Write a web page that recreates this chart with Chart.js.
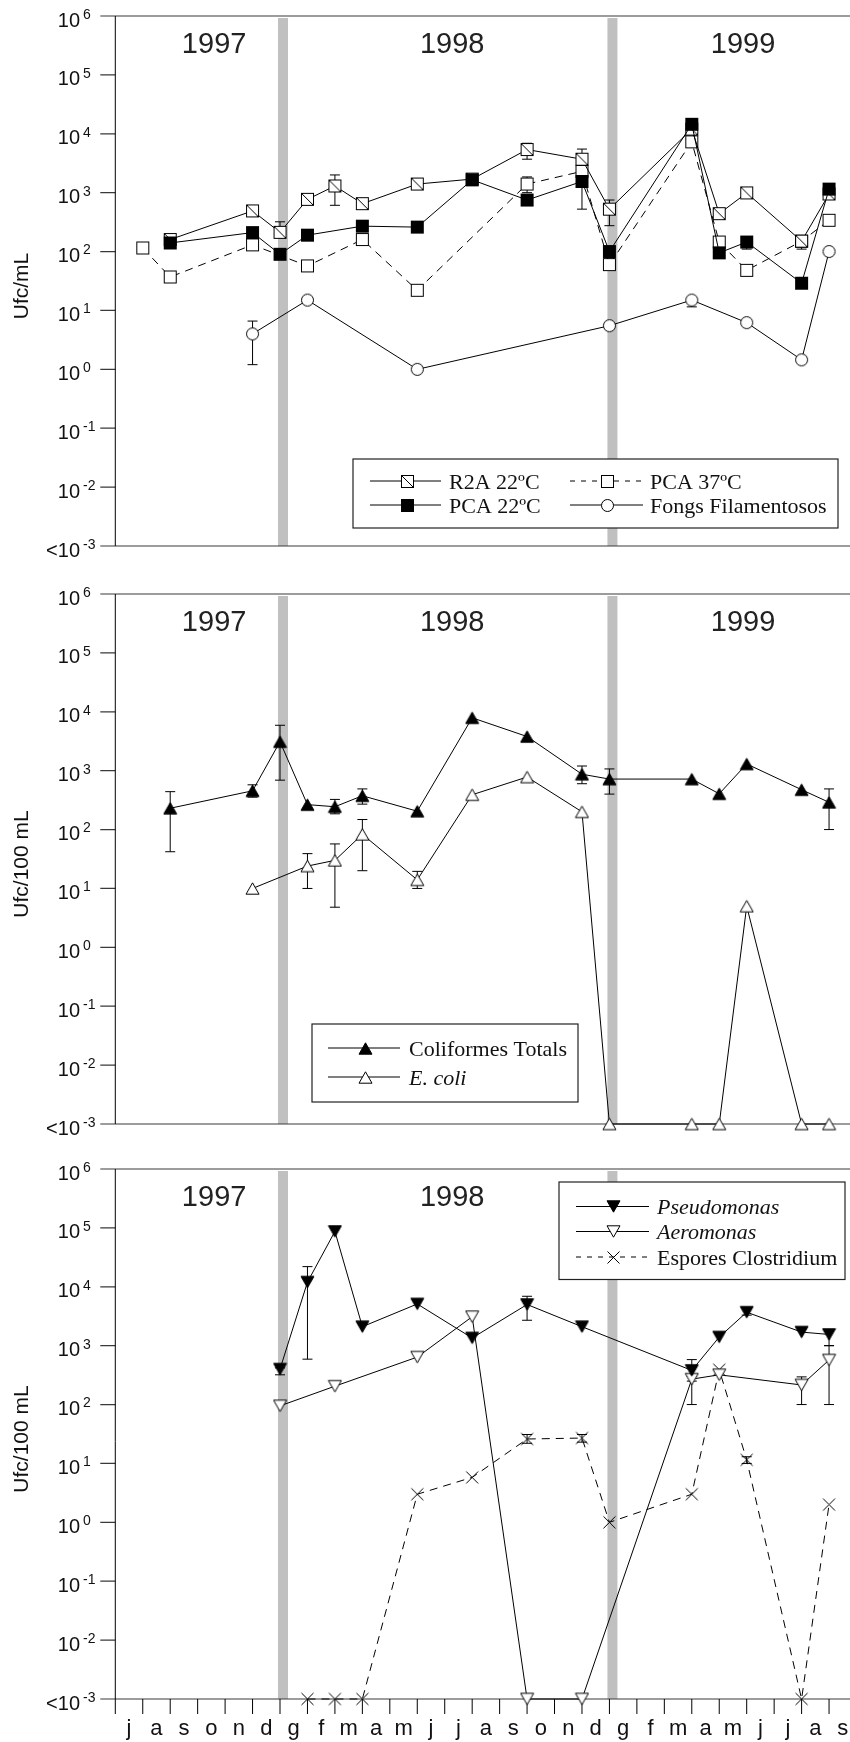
<!DOCTYPE html>
<html>
<head>
<meta charset="utf-8">
<script src="https://cdn.jsdelivr.net/npm/chart.js@4.4.1/dist/chart.umd.min.js"></script>
<style>
  html, body { margin: 0; padding: 0; background: #fff; }
  #wrap { position: relative; width: 850px; height: 1742px; overflow: hidden; }
  canvas { position: absolute; left: 0; }
</style>
</head>
<body>
<div id="wrap">
  <canvas id="c1" width="880" height="560" style="top:0"></canvas>
  <canvas id="c2" width="880" height="575" style="top:565px"></canvas>
  <canvas id="c3" width="880" height="597" style="top:1145px"></canvas>
</div>
<script>
// months from july 1997 to september 1999 (index 0 = july 1997)
const months = ['j','a','s','o','n','d','g','f','m','a','m','j','j','a','s','o','n','d','g','f','m','a','m','j','j','a','s'];
const years = ['1997', '1998', '1999'];
const yearBreaks = [6, 18];
const decades = [-3, -2, -1, 0, 1, 2, 3, 4, 5, 6];

// Ufc/mL
const r2aX = [2, 5, 6, 7, 8, 9, 11, 13, 15, 17, 18, 21, 22, 23, 25, 26];
const r2aY = [160, 490, 212, 770, 1300, 650, 1400, 1700, 5400, 3700, 525, 12000, 440, 990, 150, 950];
const r2aErr = [[6, 180, 320], [8, 610, 2000], [15, 3700, 6900], [17, 2600, 5500], [18, 275, 750], [25, 110, 185]];
const pca22X = [2, 5, 6, 7, 9, 11, 13, 15, 17, 18, 21, 22, 23, 25, 26];
const pca22Y = [140, 210, 90, 190, 270, 260, 1650, 750, 1550, 100, 14500, 95, 145, 29, 1150];
const pca22Err = [[17, 525, 1550], [23, 110, 180]];
const pca37X = [1, 2, 5, 7, 9, 11, 15, 17, 18, 21, 22, 23, 25, 26];
const pca37Y = [115, 37, 130, 57, 160, 22, 1400, 2300, 60, 7300, 145, 48, 150, 340];
const pca37Err = [[15, 1000, 1850]];
const fongsX = [5, 7, 11, 18, 21, 23, 25, 26];
const fongsY = [4, 15, 1, 5.5, 15, 6.2, 1.45, 100];
const fongsErr = [[5, 1.2, 6.6], [21, 11.5, 15]];

// Ufc/100 mL
const colifX = [2, 5, 6, 7, 8, 9, 11, 13, 15, 17, 18, 21, 22, 23, 25, 26];
const colifY = [230, 455, 3100, 265, 244, 375, 205, 7900, 3800, 870, 720, 720, 405, 1300, 475, 290];
const colifErr = [[2, 42, 440], [5, 355, 575], [6, 690, 5900], [8, 185, 325], [9, 270, 490], [17, 600, 1200], [18, 400, 1070], [26, 100, 490]];
const ecoliX = [5, 7, 8, 9, 11, 13, 15, 17, 18, 21, 22, 23, 25, 26];
const ecoliY = [10, 24, 30, 83, 14, 390, 780, 200, 0.001, 0.001, 0.001, 5, 0.001, 0.001];
const ecoliErr = [[7, 10, 39], [8, 4.8, 57], [9, 20, 148], [11, 10, 19.5]];

const pseudoX = [6, 7, 8, 9, 11, 13, 15, 17, 21, 22, 23, 25, 26];
const pseudoY = [400, 12000, 87000, 2100, 5100, 1350, 5000, 2100, 380, 1400, 3700, 1700, 1550];
const pseudoErr = [[6, 320, 420], [7, 590, 22000], [15, 2700, 6900], [21, 250, 580], [23, 3300, 4300], [26, 1000, 1800]];
const aeroX = [6, 8, 11, 13, 15, 17, 21, 22, 25, 26];
const aeroY = [95, 205, 640, 3100, 0.001, 0.001, 270, 320, 215, 570];
const aeroErr = [[21, 100, 300], [25, 100, 295], [26, 100, 1000]];
const closX = [7, 8, 9, 11, 13, 15, 17, 18, 21, 22, 23, 25, 26];
const closY = [0.001, 0.001, 0.001, 3, 5.8, 26, 27, 1.0, 3, 390, 11.5, 0.001, 2];
const closErr = [[15, 22, 31], [17, 23, 31], [23, 10, 13]];

const SANS = '"Liberation Sans", Arial, sans-serif';
const SERIF = '"Liberation Serif", "Times New Roman", serif';

// marker sprites
function marker(kind) {
  const c = document.createElement('canvas');
  c.width = 15; c.height = 15;
  const g = c.getContext('2d');
  g.lineWidth = 1; g.strokeStyle = '#000'; g.fillStyle = '#fff';
  const poly = (pts, fill) => {
    g.beginPath();
    pts.forEach(([px, py], i) => i ? g.lineTo(px, py) : g.moveTo(px, py));
    g.closePath();
    g.fillStyle = fill; g.fill(); g.stroke();
  };
  if (kind === 'sqHatch' || kind === 'sqOpen') {
    g.fillRect(1.5, 1.5, 12, 12);
    g.strokeRect(1.5, 1.5, 12, 12);
    if (kind === 'sqHatch') {
      g.beginPath(); g.moveTo(1.5, 1.5); g.lineTo(13.5, 13.5); g.stroke();
    }
  } else if (kind === 'sqFilled') {
    g.fillStyle = '#000'; g.fillRect(1, 1, 13, 13);
  } else if (kind === 'circle') {
    g.beginPath(); g.arc(7.5, 7.5, 6, 0, Math.PI * 2); g.fill(); g.stroke();
  } else if (kind === 'triUp' || kind === 'triUpOpen') {
    poly([[7.5, 1.8], [1, 13.2], [14, 13.2]], kind === 'triUp' ? '#000' : '#fff');
  } else if (kind === 'triDown' || kind === 'triDownOpen') {
    poly([[1, 1.8], [14, 1.8], [7.5, 13.2]], kind === 'triDown' ? '#000' : '#fff');
  } else if (kind === 'cross') {
    g.beginPath();
    g.moveTo(1.5, 1.5); g.lineTo(13.5, 13.5);
    g.moveTo(13.5, 1.5); g.lineTo(1.5, 13.5);
    g.stroke();
  }
  return c;
}
const M = {};
['sqHatch', 'sqOpen', 'sqFilled', 'circle', 'triUp', 'triUpOpen', 'triDown', 'triDownOpen', 'cross']
  .forEach(k => { M[k] = marker(k); });

function series(label, xs, ys, errs, style, order, dashed) {
  return {
    label,
    data: xs.map((x, i) => ({ x, y: ys[i] })),
    errorBars: errs,
    borderColor: '#000',
    borderWidth: 1,
    borderDash: dashed ? [8, 6] : [],
    pointStyle: style,
    pointRadius: 7,
    pointHoverRadius: 7,
    tension: 0,
    fill: false,
    clip: false,
    order,
  };
}

// axes, year bars, error bars and labels
function framePlugin(cfg) {
  return {
    id: 'frame',
    beforeDatasetsDraw(chart) {
      const { ctx, chartArea: a, scales: { x, y } } = chart;
      ctx.save();

      ctx.fillStyle = '#c0c0c0';
      yearBreaks.forEach(b => {
        const px = x.getPixelForValue(b);
        ctx.fillRect(px - 2, a.top + 2, 10, a.bottom - a.top - 2);
      });

      ctx.strokeStyle = '#3a3a3a';
      ctx.lineWidth = 1.2;
      ctx.beginPath();
      ctx.moveTo(a.left, a.top); ctx.lineTo(chart.width, a.top);
      ctx.moveTo(a.left, a.bottom); ctx.lineTo(chart.width, a.bottom);
      decades.forEach(d => {
        const py = y.getPixelForValue(Math.pow(10, d));
        ctx.moveTo(a.left - 15, py); ctx.lineTo(a.left, py);
      });
      ctx.stroke();

      ctx.strokeStyle = '#000';
      ctx.lineWidth = 1;
      ctx.beginPath();
      ctx.moveTo(a.left, a.top);
      ctx.lineTo(a.left, a.bottom + (cfg.months ? 15 : 0));
      if (cfg.months) {
        months.forEach((_, i) => {
          const px = x.getPixelForValue(i + 1);
          ctx.moveTo(px, a.bottom); ctx.lineTo(px, a.bottom + 15);
        });
      }
      ctx.stroke();

      // tick labels 10^n
      ctx.fillStyle = '#111';
      decades.forEach(d => {
        const py = y.getPixelForValue(Math.pow(10, d));
        ctx.font = '20px ' + SANS;
        ctx.textAlign = 'right';
        ctx.textBaseline = 'middle';
        ctx.fillText(d === -3 ? '<10' : '10', 80, py + 5);
        ctx.font = '14px ' + SANS;
        ctx.textAlign = 'left';
        ctx.fillText(String(d), 83, py - 1);
      });

      // y title
      ctx.save();
      ctx.translate(22, (a.top + a.bottom) / 2 + 5);
      ctx.rotate(-Math.PI / 2);
      ctx.font = '21px ' + SANS;
      ctx.textAlign = 'center';
      ctx.textBaseline = 'middle';
      ctx.fillText(cfg.title, 0, 0);
      ctx.restore();

      // year captions
      ctx.font = '29px ' + SANS;
      ctx.fillStyle = '#222';
      ctx.textAlign = 'center';
      ctx.textBaseline = 'middle';
      cfg.yearAt.forEach((pos, i) => {
        ctx.fillText(years[i], x.getPixelForValue(pos), a.top + 29);
      });

      if (cfg.months) {
        ctx.font = '22px ' + SANS;
        ctx.fillStyle = '#111';
        ctx.textBaseline = 'alphabetic';
        months.forEach((m, i) => {
          ctx.fillText(m, x.getPixelForValue(i + 0.5), a.bottom + 36);
        });
      }

      // error bars, drawn under the markers
      ctx.strokeStyle = '#000';
      ctx.lineWidth = 1;
      ctx.setLineDash([]);
      chart.data.datasets.forEach(ds => {
        (ds.errorBars || []).forEach(([mi, lo, hi]) => {
          const px = x.getPixelForValue(mi);
          const p0 = y.getPixelForValue(lo), p1 = y.getPixelForValue(hi);
          ctx.beginPath();
          ctx.moveTo(px, p0); ctx.lineTo(px, p1);
          ctx.moveTo(px - 5, p0); ctx.lineTo(px + 5, p0);
          ctx.moveTo(px - 5, p1); ctx.lineTo(px + 5, p1);
          ctx.stroke();
        });
      });
      ctx.restore();
    },
  };
}

// boxed key with line + marker samples
function legendPlugin(cfg) {
  return {
    id: 'legendBox',
    afterDatasetsDraw(chart) {
      const ctx = chart.ctx;
      const [x0, y0, x1, y1] = cfg.box;
      ctx.save();
      ctx.fillStyle = '#fff';
      ctx.fillRect(x0, y0, x1 - x0, y1 - y0);
      ctx.strokeStyle = '#222';
      ctx.lineWidth = 1.2;
      ctx.strokeRect(x0, y0, x1 - x0, y1 - y0);
      cfg.items.forEach(it => {
        const col = cfg.cols[it.col];
        const ry = cfg.rows[it.row];
        ctx.strokeStyle = '#000';
        ctx.lineWidth = 1;
        ctx.setLineDash(it.dashed ? [5, 6] : []);
        ctx.beginPath();
        ctx.moveTo(col.l0, ry); ctx.lineTo(col.l1, ry);
        ctx.stroke();
        ctx.setLineDash([]);
        const mk = M[it.marker];
        ctx.drawImage(mk, Math.round(col.m - mk.width / 2), Math.round(ry - mk.height / 2));
        ctx.fillStyle = '#111';
        ctx.font = (it.italic ? 'italic ' : '') + '22px ' + SERIF;
        ctx.textAlign = 'left';
        ctx.textBaseline = 'alphabetic';
        ctx.fillText(it.label, col.t, ry + 7.5);
      });
      ctx.restore();
    },
  };
}

function panel(id, datasets, padding, frame, legend) {
  return new Chart(document.getElementById(id), {
    type: 'line',
    data: { datasets },
    options: {
      responsive: false,
      animation: false,
      devicePixelRatio: 1,
      layout: { padding },
      plugins: { legend: { display: false }, tooltip: { enabled: false } },
      scales: {
        x: { type: 'linear', min: 0, max: 27, display: false },
        y: { type: 'logarithmic', min: 1e-3, max: 1e6, display: false },
      },
    },
    plugins: [framePlugin(frame), legendPlugin(legend)],
  });
}

const yearAt = [3.6, 12.27, 22.87];

panel('c1', [
  series('PCA 22ºC', pca22X, pca22Y, pca22Err, M.sqFilled, 0, false),
  series('R2A 22ºC', r2aX, r2aY, r2aErr, M.sqHatch, 1, false),
  series('PCA 37ºC', pca37X, pca37Y, pca37Err, M.sqOpen, 2, true),
  series('Fongs Filamentosos', fongsX, fongsY, fongsErr, M.circle, 3, false),
], { left: 115.3, right: 23.5, top: 16, bottom: 14 },
{ title: 'Ufc/mL', yearAt, months: false },
{
  box: [353, 459, 838, 528],
  rows: [481, 505],
  cols: [{ l0: 370, l1: 441, m: 407, t: 449 }, { l0: 570, l1: 643, m: 607, t: 650 }],
  items: [
    { label: 'R2A 22ºC', marker: 'sqHatch', col: 0, row: 0 },
    { label: 'PCA 37ºC', marker: 'sqOpen', dashed: true, col: 1, row: 0 },
    { label: 'PCA 22ºC', marker: 'sqFilled', col: 0, row: 1 },
    { label: 'Fongs Filamentosos', marker: 'circle', col: 1, row: 1 },
  ],
});

panel('c2', [
  series('Coliformes Totals', colifX, colifY, colifErr, M.triUp, 0, false),
  series('E. coli', ecoliX, ecoliY, ecoliErr, M.triUpOpen, 1, false),
], { left: 115.3, right: 23.5, top: 29, bottom: 16 },
{ title: 'Ufc/100 mL', yearAt, months: false },
{
  box: [312, 459, 578, 537],
  rows: [483, 512],
  cols: [{ l0: 328, l1: 400, m: 365, t: 409 }],
  items: [
    { label: 'Coliformes Totals', marker: 'triUp', col: 0, row: 0 },
    { label: 'E. coli', marker: 'triUpOpen', italic: true, col: 0, row: 1 },
  ],
});

panel('c3', [
  series('Pseudomonas', pseudoX, pseudoY, pseudoErr, M.triDown, 0, false),
  series('Aeromonas', aeroX, aeroY, aeroErr, M.triDownOpen, 1, false),
  series('Espores Clostridium', closX, closY, closErr, M.cross, 2, true),
], { left: 115.3, right: 23.5, top: 24, bottom: 43 },
{ title: 'Ufc/100 mL', yearAt: yearAt.slice(0, 2), months: true },
{
  box: [559, 37, 845, 134.5],
  rows: [61.5, 86.5, 112],
  cols: [{ l0: 576, l1: 649, m: 613, t: 657 }],
  items: [
    { label: 'Pseudomonas', marker: 'triDown', italic: true, col: 0, row: 0 },
    { label: 'Aeromonas', marker: 'triDownOpen', italic: true, col: 0, row: 1 },
    { label: 'Espores Clostridium', marker: 'cross', dashed: true, col: 0, row: 2 },
  ],
});
</script>
</body>
</html>
